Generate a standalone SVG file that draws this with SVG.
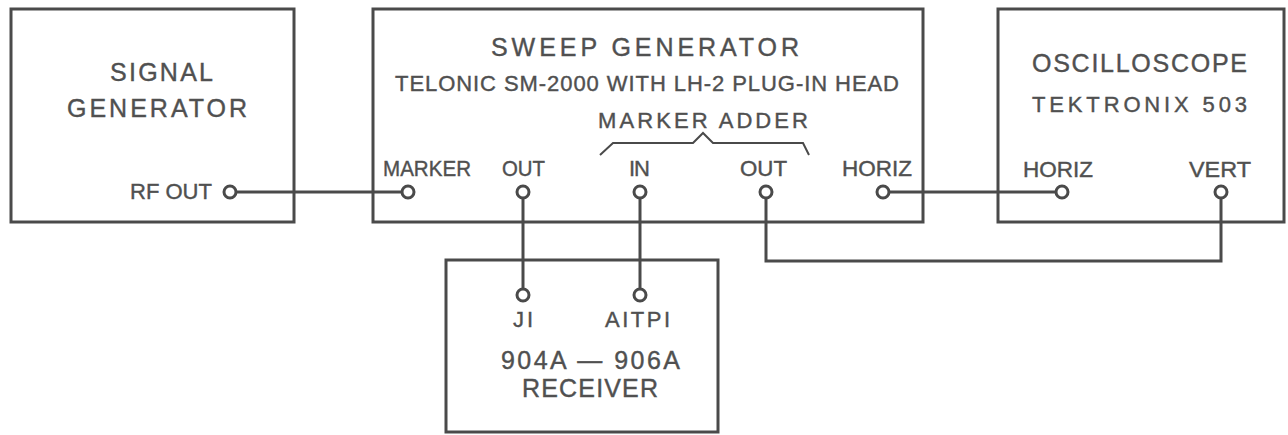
<svg xmlns="http://www.w3.org/2000/svg" width="1288" height="435" viewBox="0 0 1288 435">
<style>
.box{fill:none;stroke:#4a4a4a;stroke-width:3}
.wire{fill:none;stroke:#4a4a4a;stroke-width:3}
.jack{fill:#fff;stroke:#4a4a4a;stroke-width:3}
text{font-family:"Liberation Sans","DejaVu Sans",sans-serif;fill:#505050;stroke:#505050;stroke-width:0.4;font-size:22px}
.big{font-size:25px}
</style>
<rect width="1288" height="435" fill="#fff"/>
<g id="connectors">
<path class="wire" d="M230 192H408"/>
<path class="wire" d="M883 192H1062"/>
<path class="wire" d="M523 192V295"/>
<path class="wire" d="M640 192V295"/>
<path class="wire" d="M766 192V261H1221V192"/>
</g>
<g id="signal-generator">
<rect class="box" x="11" y="9" width="283" height="213"/>
<text class="big" x="110" y="81" textLength="103" lengthAdjust="spacing">SIGNAL</text>
<text class="big" x="67" y="117" textLength="180" lengthAdjust="spacing">GENERATOR</text>
<text x="130" y="199" textLength="82" lengthAdjust="spacingAndGlyphs">RF OUT</text>
<circle class="jack" cx="230" cy="192" r="6"/>
</g>
<g id="sweep-generator">
<rect class="box" x="373" y="9" width="550" height="213"/>
<text class="big" x="491" y="56" textLength="308" lengthAdjust="spacing">SWEEP  GENERATOR</text>
<text x="395" y="91" textLength="504" lengthAdjust="spacing">TELONIC SM-2000 WITH LH-2 PLUG-IN HEAD</text>
<text x="598" y="128" textLength="210" lengthAdjust="spacing">MARKER  ADDER</text>
<path fill="none" stroke="#4a4a4a" stroke-width="2" d="M600 155L613 143H693L703 133L713 143H803L809 155"/>
<text x="383" y="176" textLength="88" lengthAdjust="spacingAndGlyphs">MARKER</text>
<text x="502" y="176" textLength="43" lengthAdjust="spacingAndGlyphs">OUT</text>
<text x="629" y="176" textLength="21" lengthAdjust="spacing">IN</text>
<text x="740" y="176" textLength="47" lengthAdjust="spacingAndGlyphs">OUT</text>
<text x="842" y="176" textLength="70" lengthAdjust="spacingAndGlyphs">HORIZ</text>
<circle class="jack" cx="408" cy="192" r="6"/>
<circle class="jack" cx="523" cy="192" r="6"/>
<circle class="jack" cx="640" cy="192" r="6"/>
<circle class="jack" cx="766" cy="192" r="6"/>
<circle class="jack" cx="883" cy="192" r="6"/>
</g>
<g id="oscilloscope">
<rect class="box" x="998" y="9" width="286" height="213"/>
<text class="big" x="1032" y="72" textLength="215" lengthAdjust="spacing">OSCILLOSCOPE</text>
<text x="1032" y="112" textLength="215" lengthAdjust="spacing">TEKTRONIX  503</text>
<text x="1023" y="177" textLength="70" lengthAdjust="spacingAndGlyphs">HORIZ</text>
<text x="1189" y="177" textLength="62" lengthAdjust="spacingAndGlyphs">VERT</text>
<circle class="jack" cx="1062" cy="192" r="6"/>
<circle class="jack" cx="1221" cy="192" r="6"/>
</g>
<g id="receiver">
<rect class="box" x="446" y="260" width="272" height="172"/>
<circle class="jack" cx="523" cy="295" r="6"/>
<circle class="jack" cx="640" cy="295" r="6"/>
<text x="513" y="327" textLength="20" lengthAdjust="spacing">JI</text>
<text x="605" y="327" textLength="65" lengthAdjust="spacing">AITPI</text>
<text class="big" x="501" y="369" textLength="179" lengthAdjust="spacing">904A — 906A</text>
<text class="big" x="522" y="397" textLength="136" lengthAdjust="spacing">RECEIVER</text>
</g>
</svg>
